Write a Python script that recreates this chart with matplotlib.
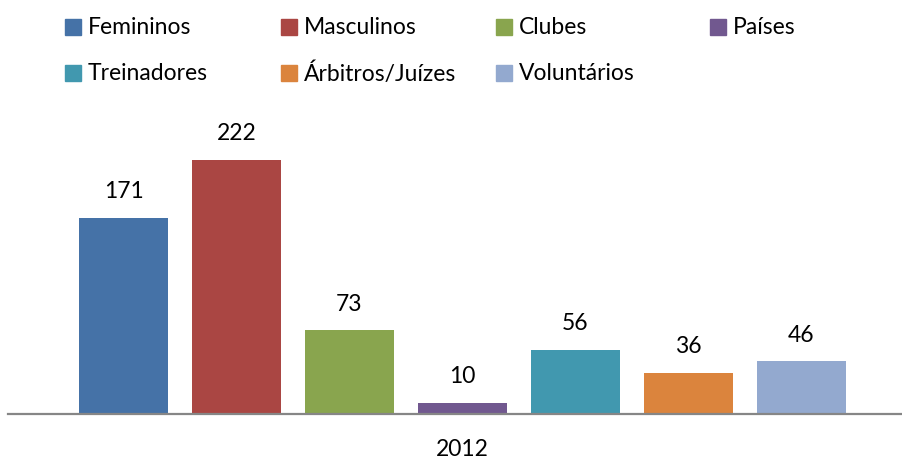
import matplotlib
matplotlib.use("Agg")
import matplotlib.pyplot as plt
from matplotlib.patches import Rectangle

plt.rcParams['font.family'] = ['Lato', 'DejaVu Sans']

series = ['Femininos', 'Masculinos', 'Clubes', 'Países',
          'Treinadores', 'Árbitros/Juízes', 'Voluntários']
values = [171, 222, 73, 10, 56, 36, 46]
category = '2012'
colors = ['#4572A7', '#AA4643', '#89A54E', '#71588F',
          '#4198AF', '#DB843D', '#93A9CF']

W, H = 903, 460
fig = plt.figure(figsize=(W / 100, H / 100), dpi=100)

# plot area: 1 bar slot = 113 px, bar width 89 px
ax = fig.add_axes([8 / W, 45 / H, 1 - 8 / W, 298 / H])
xs = list(range(len(values)))
bars = ax.bar(xs, values, width=89 / 113, color=colors, zorder=2)
ax.set_xlim((8 - 123.5) / 113, (903 - 123.5) / 113)
ax.set_ylim(0, 260)

for b, v in zip(bars, values):
    ax.annotate(str(v), (b.get_x() + b.get_width() / 2, v),
                xytext=(0, 12), textcoords='offset points',
                ha='center', va='bottom', fontsize=16.5, color='black')

for s in ['top', 'left', 'right']:
    ax.spines[s].set_visible(False)
ax.spines['bottom'].set_color('#868686')
ax.spines['bottom'].set_linewidth(1.6)
ax.set_yticks([])
ax.set_xticks([3])
ax.set_xticklabels([category], fontsize=16.5)
ax.tick_params(axis='x', length=0, pad=17)

# legend: 4 columns, 2 rows
col_x = [65, 281, 496, 710]
row_y = [28, 74]
for i, (name, c) in enumerate(zip(series, colors)):
    px = col_x[i % 4]
    py = row_y[i // 4]
    fig.patches.append(Rectangle((px / W, 1 - (py + 8) / H), 16 / W, 16 / H,
                                 transform=fig.transFigure, color=c))
    fig.text((px + 23) / W, 1 - py / H, name, fontsize=16.5,
             va='center', ha='left', color='black')

fig.savefig('out.png', dpi=100)
